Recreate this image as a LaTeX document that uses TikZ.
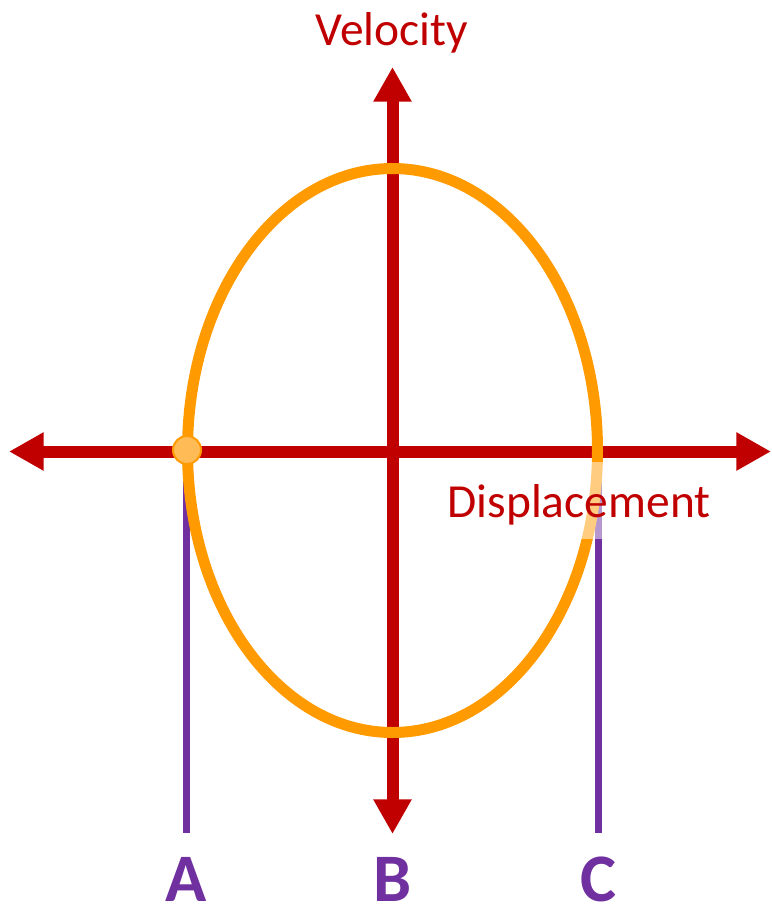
\documentclass[tikz,border=0pt]{standalone}
\usepackage{fontspec}
\setmainfont{Carlito}
\usetikzlibrary{arrows.meta}
\definecolor{axred}{HTML}{C00000}
\definecolor{ellorange}{HTML}{FF9A00}
\definecolor{dotfill}{HTML}{FFBB55}
\definecolor{lpurple}{HTML}{7030A0}
\tikzset{
  axisline/.style={draw=axred, line width=9pt,
    {Triangle[length=26pt,width=27pt]}-{Triangle[length=26pt,width=27pt]}},
  purpleline/.style={draw=lpurple, line width=5.25pt},
  axlabel/.style={text=axred, font=\fontsize{35.6pt}{40pt}\selectfont, inner sep=0pt, anchor=base},
  letterlabel/.style={text=lpurple, font=\fontsize{51pt}{56pt}\selectfont\bfseries, inner sep=0pt, anchor=base},
}
\begin{document}
\begin{tikzpicture}[x=0.75pt, y=-0.75pt]
\useasboundingbox (0,0) rectangle (772,908);
% axis end points
\coordinate (hL) at (9,451.5);
\coordinate (hR) at (771,451.5);
\coordinate (vT) at (392.5,67);
\coordinate (vB) at (392.5,834);
\coordinate (aTop) at (186,452);
\coordinate (aBot) at (186,833);
\coordinate (cTop) at (598,452);
\coordinate (cBot) at (598,833);
% axes
\draw[axisline] (hL) -- (hR);
\draw[axisline] (vB) -- (vT);
% purple lines
\draw[purpleline] (aTop) -- (aBot);
\draw[purpleline] (cTop) -- (cBot);
% ellipse
\draw[ellorange, line width=8.25pt] (392.5,450.5) ellipse [x radius=205, y radius=282];
% translucent text box
\fill[white, opacity=0.5] (445,462) rectangle (712,539);
\node[axlabel] (disp) at (579,517) {Displacement};
\node[axlabel] (vel) at (392,45) {Velocity};
% point
\node[circle, draw=ellorange, fill=dotfill, line width=1.5pt, minimum size=21pt, inner sep=0pt] (pt) at (187,450) {};
% letters
\node[letterlabel] (A) at (186,901) {A};
\node[letterlabel] (B) at (393,901) {B};
\node[letterlabel] (C) at (598,901) {C};
\end{tikzpicture}
\end{document}
